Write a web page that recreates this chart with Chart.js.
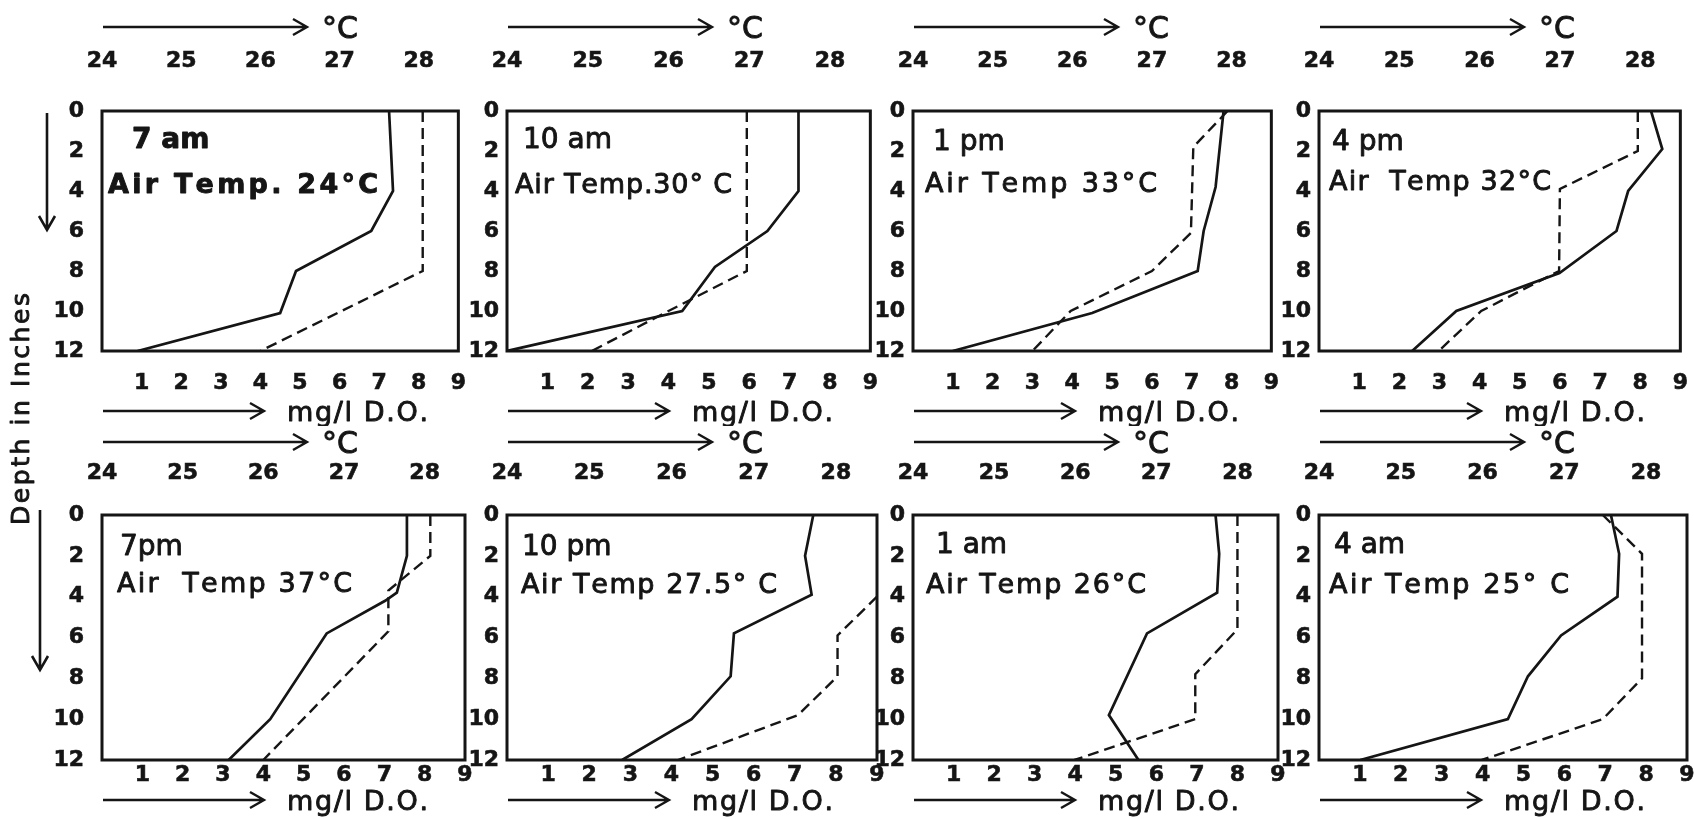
<!DOCTYPE html>
<html>
<head>
<meta charset="utf-8">
<title>Depth profiles</title>
<script src="https://cdn.jsdelivr.net/npm/chart.js@4/dist/chart.umd.min.js"></script>
<style>
  html, body { margin: 0; padding: 0; background: #fff; overflow: hidden; }
  #page { position: relative; width: 1694px; height: 819px; }
  #page canvas { position: absolute; }
</style>
</head>
<body>
<div id="page">
  <canvas id="sideLayer" width="1694" height="819" style="left:0;top:0"></canvas>
</div>
<script>
// Panel captions
const panelTimes = ["7 am", "10 am", "1 pm", "4 pm", "7pm", "10 pm", "1 am", "4 am"];
const airTempLabels = [
  "Air Temp. 24°C",
  "Air Temp.30° C",
  "Air Temp 33°C",
  "Air  Temp 32°C",
  "Air  Temp 37°C",
  "Air Temp 27.5° C",
  "Air Temp 26°C",
  "Air Temp 25° C",
];

// Tick labels
const depthTicks = [0, 2, 4, 6, 8, 10, 12];
const oxygenTicks = [1, 2, 3, 4, 5, 6, 7, 8, 9];
const tempTicks = [24, 25, 26, 27, 28];

// Dissolved oxygen (mg/l), solid line
const oxygenDepths = [
  [0, 4, 6, 8, 10.1, 12],
  [0, 4, 6, 7.8, 10, 12],
  [0, 3.8, 6, 8, 10.1, 12],
  [0, 1.9, 4, 6, 8.1, 10, 12],
  [0, 2, 3.8, 4.2, 5.8, 10, 12],
  [0, 2, 3.9, 5.8, 7.9, 10, 12],
  [0, 1.9, 3.8, 5.8, 9.8, 12],
  [0, 1.9, 4, 5.9, 7.9, 10, 12],
];
const oxygenValues = [
  [7.25, 7.35, 6.8, 4.9, 4.5, 0.9],
  [7.22, 7.22, 6.45, 5.15, 4.34, 0],
  [7.8, 7.6, 7.3, 7.15, 4.5, 1.0],
  [8.27, 8.55, 7.7, 7.41, 5.99, 3.42, 2.32],
  [7.56, 7.56, 7.31, 7.02, 5.57, 4.17, 3.14],
  [7.45, 7.25, 7.41, 5.52, 5.44, 4.49, 2.8],
  [7.46, 7.55, 7.5, 5.77, 4.83, 5.56],
  [7.14, 7.34, 7.3, 5.92, 5.11, 4.62, 1.01],
];

// Water temperature (°C), dashed line
const tempDepths = [
  [0, 8, 12],
  [0, 8, 10, 12],
  [0, 1.8, 6.1, 8, 10, 12],
  [0, 2, 3.9, 8, 10, 12],
  [0, 2, 3.7, 5.7, 12],
  [4, 5.9, 7.9, 9.8, 12],
  [0, 5.6, 7.8, 10, 12],
  [0, 1.9, 8, 10, 12],
];
const tempValues = [
  [28.05, 28.05, 26.0],
  [26.97, 26.97, 26.0, 25.05],
  [27.95, 27.52, 27.49, 27.0, 25.98, 25.5],
  [27.97, 27.97, 27.0, 26.99, 26.02, 25.49],
  [28.07, 28.07, 27.55, 27.55, 26.0],
  [28.5, 28.02, 28.02, 27.54, 26.08],
  [28.0, 28.0, 27.48, 27.48, 25.99],
  [27.47, 27.95, 27.95, 27.47, 25.99],
];

// Layout of the 4 x 2 grid of panels
const colLeft = [102, 507, 913, 1319];
const colRight = [465, 877, 1278, 1687];
const rowTop = [111, 515];
const rowBottom = [351, 760];
const marginLeft = 75;
const marginRight = 20;
const marginTop = [102, 92];
const marginBottom = [75, 58];
const bottomTickPad = [19, 2];
const topTickPad = [37, 29];
const yTickPad = [18, 8, 8, 8];
const topArrowGap = [84, 73];
const bottomArrowGap = [60, 40];
const timeLabelPos = [[30, 37], [16, 37], [20, 39], [13, 39], [18, 40], [15, 40], [23, 38], [15, 38]];
const airLabelPos = [[6, 82], [8, 82], [12, 81], [10, 79], [15, 77], [14, 78], [13, 78], [10, 78]];
const airLabelWidth = [270, 217, 232, 222, 235, 256, 220, 240];
const labelWeight = ["bold", "normal", "normal", "normal", "normal", "normal", "normal", "normal"];

const INK = "#151515";
const FONT = "'DejaVu Sans', sans-serif";

function toPoints(xs, ys) {
  return xs.map((v, k) => ({ x: v, y: ys[k] }));
}

// text drawn letter by letter, stretched to a given width, with a light outline
function fillSpaced(ctx, text, x, y, width) {
  const chars = Array.from(text);
  const natural = chars.reduce((s, ch) => s + ctx.measureText(ch).width, 0);
  const gap = width ? (width - natural) / (chars.length - 1) : 0;
  ctx.save();
  ctx.lineWidth = 0.9;
  ctx.lineJoin = "round";
  chars.forEach((ch) => {
    ctx.fillText(ch, x, y);
    ctx.strokeText(ch, x, y);
    x += ctx.measureText(ch).width + gap;
  });
  ctx.restore();
}

function arrowRight(ctx, x0, x1, y) {
  ctx.beginPath();
  ctx.moveTo(x0, y);
  ctx.lineTo(x1, y);
  ctx.moveTo(x1 - 14, y - 8);
  ctx.lineTo(x1, y);
  ctx.lineTo(x1 - 14, y + 8);
  ctx.stroke();
}

function arrowDown(ctx, x, y0, y1) {
  ctx.beginPath();
  ctx.moveTo(x, y0);
  ctx.lineTo(x, y1);
  ctx.moveTo(x - 8, y1 - 14);
  ctx.lineTo(x, y1);
  ctx.lineTo(x + 8, y1 - 14);
  ctx.stroke();
}

// frame, captions and axis unit arrows of one panel
const panelDecor = {
  id: "panelDecor",
  afterDraw(chart, args, opts) {
    const i = opts.index;
    const row = Math.floor(i / 4);
    const ctx = chart.ctx;
    const a = chart.chartArea;
    ctx.save();
    ctx.strokeStyle = INK;
    ctx.fillStyle = INK;
    ctx.lineWidth = 3;
    ctx.strokeRect(a.left, a.top, a.right - a.left, a.bottom - a.top);

    ctx.textBaseline = "alphabetic";
    ctx.textAlign = "left";
    ctx.font = labelWeight[i] + " 28px " + FONT;
    fillSpaced(ctx, panelTimes[i], a.left + timeLabelPos[i][0], a.top + timeLabelPos[i][1], 0);
    ctx.font = labelWeight[i] + " 27px " + FONT;
    fillSpaced(ctx, airTempLabels[i], a.left + airLabelPos[i][0], a.top + airLabelPos[i][1], airLabelWidth[i]);

    ctx.lineWidth = 2.4;
    const yTop = a.top - topArrowGap[row];
    arrowRight(ctx, a.left + 1, a.left + 205, yTop);
    ctx.font = "30px " + FONT;
    fillSpaced(ctx, "°C", a.left + 220, yTop + 11, 0);

    const yBottom = a.bottom + bottomArrowGap[row];
    arrowRight(ctx, a.left + 1, a.left + 162, yBottom);
    ctx.font = "27px " + FONT;
    fillSpaced(ctx, "mg/l D.O.", a.left + 185, yBottom + 10, 141);
    ctx.restore();
  },
};

function tickStyle(pad) {
  return {
    padding: pad,
    color: INK,
    font: { family: FONT, size: 22, weight: "bold" },
    textStrokeColor: INK,
    textStrokeWidth: 0.6,
    autoSkip: false,
    maxRotation: 0,
  };
}

function makePanel(i) {
  const col = i % 4;
  const row = Math.floor(i / 4);
  const canvas = document.createElement("canvas");
  canvas.width = colRight[col] - colLeft[col] + marginLeft + marginRight;
  canvas.height = rowBottom[row] - rowTop[row] + marginTop[row] + marginBottom[row];
  canvas.style.left = colLeft[col] - marginLeft + "px";
  canvas.style.top = rowTop[row] - marginTop[row] + "px";
  document.getElementById("page").appendChild(canvas);

  new Chart(canvas.getContext("2d"), {
    type: "scatter",
    data: {
      datasets: [
        {
          label: "mg/l D.O.",
          data: toPoints(oxygenValues[i], oxygenDepths[i]),
          xAxisID: "x",
          yAxisID: "y",
          showLine: true,
          borderColor: INK,
          borderWidth: 2.7,
          pointRadius: 0,
        },
        {
          label: "°C",
          data: toPoints(tempValues[i], tempDepths[i]),
          xAxisID: "x2",
          yAxisID: "y",
          showLine: true,
          borderColor: INK,
          borderWidth: 2.4,
          borderDash: [11, 6],
          pointRadius: 0,
        },
      ],
    },
    options: {
      responsive: false,
      animation: false,
      events: [],
      layout: { padding: { left: 0, top: 0, bottom: 0, right: marginRight } },
      plugins: {
        legend: { display: false },
        tooltip: { enabled: false },
        panelDecor: { index: i },
      },
      scales: {
        y: {
          type: "linear",
          position: "left",
          reverse: true,
          min: 0,
          max: 12,
          afterBuildTicks: (s) => { s.ticks = depthTicks.map((v) => ({ value: v })); },
          afterFit: (s) => { s.width = marginLeft; },
          grid: { display: false, drawTicks: false },
          border: { display: false },
          ticks: tickStyle(yTickPad[col]),
        },
        x: {
          type: "linear",
          position: "bottom",
          min: 0,
          max: 9,
          afterBuildTicks: (s) => { s.ticks = oxygenTicks.map((v) => ({ value: v })); },
          afterFit: (s) => { s.height = marginBottom[row]; },
          grid: { display: false, drawTicks: false },
          border: { display: false },
          ticks: tickStyle(bottomTickPad[row]),
        },
        x2: {
          type: "linear",
          axis: "x",
          position: "top",
          min: 24,
          max: 28.5,
          afterBuildTicks: (s) => { s.ticks = tempTicks.map((v) => ({ value: v })); },
          afterFit: (s) => { s.height = marginTop[row]; },
          grid: { display: false, drawTicks: false },
          border: { display: false },
          ticks: tickStyle(topTickPad[row]),
        },
      },
    },
    plugins: [panelDecor],
  });
}

// shared depth title and the two downward arrows
function drawSide() {
  const ctx = document.getElementById("sideLayer").getContext("2d");
  ctx.strokeStyle = INK;
  ctx.fillStyle = INK;
  ctx.lineWidth = 2.6;
  arrowDown(ctx, 47, 113, 230);
  arrowDown(ctx, 40, 510, 670);

  ctx.save();
  ctx.translate(29, 409);
  ctx.rotate(-Math.PI / 2);
  ctx.font = "25px " + FONT;
  ctx.textBaseline = "alphabetic";
  fillSpaced(ctx, "Depth in Inches", -116, 0, 232);
  ctx.restore();
}

document.addEventListener("DOMContentLoaded", function () {
  drawSide();
  for (let i = 0; i < 8; i++) {
    makePanel(i);
  }
});
</script>
</body>
</html>
